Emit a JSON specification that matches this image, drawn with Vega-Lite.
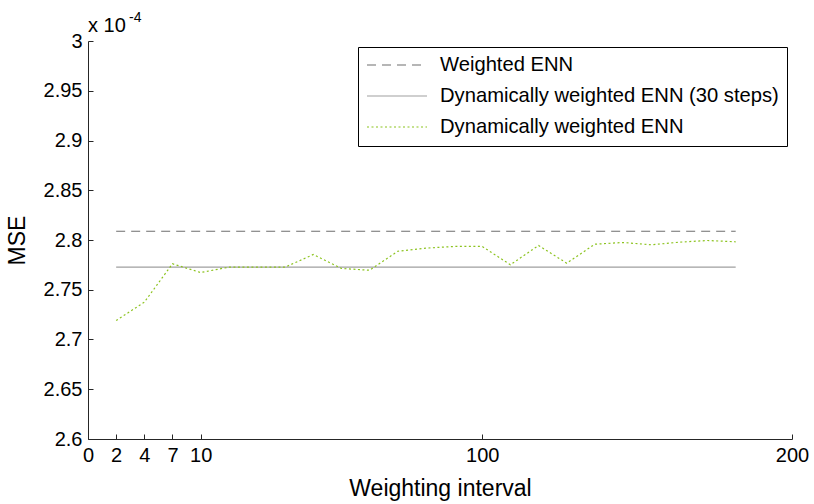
{
  "$schema": "https://vega.github.io/schema/vega-lite/v6.json",
  "autosize": {"type": "none"},
  "width": 704,
  "height": 398,
  "padding": {"left": 88, "top": 41, "right": 22, "bottom": 65},
  "background": "white",
  "config": {
    "font": "Liberation Sans",
    "view": {"stroke": null},
    "axis": {"grid": false, "domainColor": "#262626", "tickColor": "#262626", "labelColor": "#000000", "titleColor": "#000000", "labelFont": "Liberation Sans", "titleFont": "Liberation Sans", "labelFontSize": 20, "titleFontSize": 23, "titleFontWeight": "normal", "tickSize": -5, "domainWidth": 1, "tickWidth": 1}
  },
  "data": {
    "values": [
      {"idx": 1, "mse": 2.8088, "series": "Weighted ENN"},
      {"idx": 23, "mse": 2.8088, "series": "Weighted ENN"},
      {"idx": 1, "mse": 2.7727, "series": "Dynamically weighted ENN (30 steps)"},
      {"idx": 23, "mse": 2.7727, "series": "Dynamically weighted ENN (30 steps)"},
      {"idx": 1, "mse": 2.7191, "series": "Dynamically weighted ENN"},
      {"idx": 2, "mse": 2.7375, "series": "Dynamically weighted ENN"},
      {"idx": 3, "mse": 2.7761, "series": "Dynamically weighted ENN"},
      {"idx": 4, "mse": 2.7673, "series": "Dynamically weighted ENN"},
      {"idx": 5, "mse": 2.7727, "series": "Dynamically weighted ENN"},
      {"idx": 6, "mse": 2.7727, "series": "Dynamically weighted ENN"},
      {"idx": 7, "mse": 2.7727, "series": "Dynamically weighted ENN"},
      {"idx": 8, "mse": 2.7854, "series": "Dynamically weighted ENN"},
      {"idx": 9, "mse": 2.7714, "series": "Dynamically weighted ENN"},
      {"idx": 10, "mse": 2.7696, "series": "Dynamically weighted ENN"},
      {"idx": 11, "mse": 2.7887, "series": "Dynamically weighted ENN"},
      {"idx": 12, "mse": 2.7918, "series": "Dynamically weighted ENN"},
      {"idx": 13, "mse": 2.7935, "series": "Dynamically weighted ENN"},
      {"idx": 14, "mse": 2.7935, "series": "Dynamically weighted ENN"},
      {"idx": 15, "mse": 2.7751, "series": "Dynamically weighted ENN"},
      {"idx": 16, "mse": 2.7945, "series": "Dynamically weighted ENN"},
      {"idx": 17, "mse": 2.7767, "series": "Dynamically weighted ENN"},
      {"idx": 18, "mse": 2.7958, "series": "Dynamically weighted ENN"},
      {"idx": 19, "mse": 2.7975, "series": "Dynamically weighted ENN"},
      {"idx": 20, "mse": 2.7952, "series": "Dynamically weighted ENN"},
      {"idx": 21, "mse": 2.7978, "series": "Dynamically weighted ENN"},
      {"idx": 22, "mse": 2.7995, "series": "Dynamically weighted ENN"},
      {"idx": 23, "mse": 2.7982, "series": "Dynamically weighted ENN"}
    ]
  },
  "layer": [
    {
      "mark": {"type": "line", "strokeWidth": 1.2},
      "encoding": {
        "x": {
          "field": "idx", "type": "quantitative",
          "scale": {"domain": [0, 25], "nice": false, "zero": false},
          "axis": {"values": [0, 1, 2, 3, 4, 14, 25], "labelExpr": "datum.value == 0 ? '0' : datum.value == 1 ? '2' : datum.value == 2 ? '4' : datum.value == 3 ? '7' : datum.value == 4 ? '10' : datum.value == 14 ? '100' : '200'", "title": "Weighting interval", "labelPadding": 11, "titlePadding": 12, "labelFlush": false, "labelOverlap": false}
        },
        "y": {
          "field": "mse", "type": "quantitative",
          "scale": {"domain": [2.6, 3.0], "nice": false, "zero": false},
          "axis": {"values": [2.6, 2.65, 2.7, 2.75, 2.8, 2.85, 2.9, 2.95, 3.0], "format": ".2~f", "title": "MSE", "labelPadding": 11, "titlePadding": 14, "labelFlush": false, "labelOverlap": false}
        },
        "color": {
          "field": "series", "type": "nominal",
          "scale": {"domain": ["Weighted ENN", "Dynamically weighted ENN (30 steps)", "Dynamically weighted ENN"], "range": ["#6e6e6e", "#a0a0a0", "#8cc31f"]},
          "legend": {"orient": "none", "legendX": 270, "legendY": 6, "title": null, "symbolType": "stroke", "symbolSize": 3600, "symbolStrokeWidth": 1.2, "clipHeight": 20, "labelFontSize": 20.2, "labelFont": "Liberation Sans", "labelColor": "#000000", "labelLimit": 400, "strokeColor": "#000000", "fillColor": "white", "padding": 8, "rowPadding": 10, "labelOffset": 12, "cornerRadius": 0}
        },
        "strokeDash": {
          "field": "series", "type": "nominal",
          "scale": {"domain": ["Weighted ENN", "Dynamically weighted ENN (30 steps)", "Dynamically weighted ENN"], "range": [[9, 6], [1, 0], [2, 2.5]]},
          "legend": null
        }
      }
    },
    {
      "data": {"values": [{"label": "x 10"}]},
      "mark": {"type": "text", "align": "left", "baseline": "alphabetic", "fontSize": 20, "font": "Liberation Sans", "color": "#000000", "dy": -9},
      "encoding": {"x": {"datum": 0}, "y": {"datum": 3.0}, "text": {"field": "label"}}
    },
    {
      "data": {"values": [{"label": "-4"}]},
      "mark": {"type": "text", "align": "left", "baseline": "alphabetic", "fontSize": 14, "font": "Liberation Sans", "color": "#000000", "dx": 41, "dy": -19},
      "encoding": {"x": {"datum": 0}, "y": {"datum": 3.0}, "text": {"field": "label"}}
    }
  ]
}
